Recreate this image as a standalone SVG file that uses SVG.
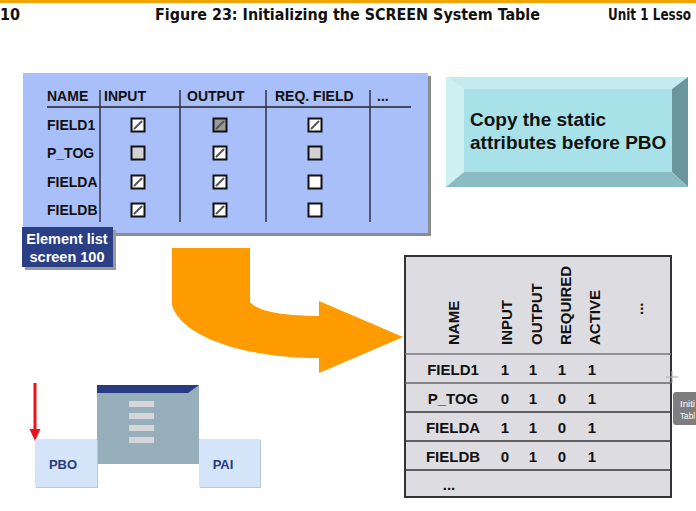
<svg xmlns="http://www.w3.org/2000/svg" width="696" height="511" viewBox="0 0 696 511">
<style>
.hdr{font-family:"Liberation Sans Narrow","DejaVu Sans Condensed","Liberation Sans",sans-serif;font-weight:bold;font-size:16px;fill:#111}
.t{font-family:"Liberation Sans",Arial,sans-serif;font-weight:bold;fill:#111}
.h14{font-size:14px}
.r15{font-size:15px}
.cb{stroke:#111;stroke-width:2}
.mk{stroke:#555;stroke-width:2;stroke-linecap:round}
.vsep{stroke:#334;stroke-width:1.5}
.row{stroke:#333;stroke-width:1.5}
</style>
<defs>
<g id="chk"><rect class="cb" x="-6.5" y="-6.5" width="13" height="13" fill="#fff"/><line class="mk" x1="-3.5" y1="3.5" x2="3.5" y2="-3.5"/></g>
<g id="chkg"><rect class="cb" x="-6.5" y="-6.5" width="13" height="13" fill="#9a9a9a"/><line class="mk" x1="-3.5" y1="3.5" x2="3.5" y2="-3.5" stroke="#444"/></g>
<g id="ung"><rect class="cb" x="-6.5" y="-6.5" width="13" height="13" fill="#d2d2d2"/></g>
<g id="unw"><rect class="cb" x="-6.5" y="-6.5" width="13" height="13" fill="#fff"/></g>
</defs>
<rect width="696" height="511" fill="#fff"/>
<!-- header -->
<g id="header">
<rect x="0" y="0" width="696" height="3" fill="#f2a500"/>
<text class="hdr" x="0" y="20">10</text>
<text class="hdr" x="155" y="20" textLength="385" lengthAdjust="spacingAndGlyphs">Figure 23: Initializing the SCREEN System Table</text>
<text class="hdr" x="608" y="20" textLength="83" lengthAdjust="spacingAndGlyphs">Unit 1 Lesso</text>
</g>
<!-- element list table -->
<g id="element-list">
<rect x="26" y="76" width="405" height="160" fill="#8c8c8c"/>
<rect x="23" y="73" width="405" height="160" fill="#a8bffa"/>
<line x1="47" y1="107" x2="411" y2="107" stroke="#222" stroke-width="1.5"/>
<line class="vsep" x1="100" y1="90" x2="100" y2="222"/>
<line class="vsep" x1="180" y1="90" x2="180" y2="222"/>
<line class="vsep" x1="266" y1="90" x2="266" y2="222"/>
<line class="vsep" x1="370" y1="90" x2="370" y2="222"/>
<text class="t h14" x="47" y="101">NAME</text>
<text class="t h14" x="104" y="101">INPUT</text>
<text class="t h14" x="187" y="101">OUTPUT</text>
<text class="t h14" x="275" y="101">REQ. FIELD</text>
<text class="t h14" x="377" y="101">...</text>
<text class="t h14" x="47" y="130">FIELD1</text>
<text class="t h14" x="47" y="158">P_TOG</text>
<text class="t h14" x="47" y="187">FIELDA</text>
<text class="t h14" x="47" y="215">FIELDB</text>
<use href="#chk" x="138" y="125"/><use href="#chkg" x="220" y="125"/><use href="#chk" x="315" y="125"/>
<use href="#ung" x="138" y="153"/><use href="#chk" x="220" y="153"/><use href="#ung" x="315" y="153"/>
<use href="#chk" x="138" y="182"/><use href="#chk" x="220" y="182"/><use href="#unw" x="315" y="182"/>
<use href="#chk" x="138" y="210"/><use href="#chk" x="220" y="210"/><use href="#unw" x="315" y="210"/>
</g>
<g id="element-label">
<rect x="25" y="230" width="91" height="40" fill="#9a9a9a"/>
<rect x="22" y="227" width="91" height="40" fill="#2b3f86"/>
<text class="t" x="67" y="244" font-size="14.5" style="fill:#fff" text-anchor="middle">Element list</text>
<text class="t" x="67" y="262" font-size="14.5" style="fill:#fff" text-anchor="middle">screen 100</text>
</g>
<!-- copy note -->
<g id="note">
<polygon points="446,77 688,77 672,89 464,89" fill="#c4ecf0"/>
<polygon points="446,77 464,89 464,172 446,187" fill="#cdf0f3"/>
<polygon points="688,77 688,187 672,172 672,89" fill="#6a959b"/>
<polygon points="446,187 688,187 672,172 464,172" fill="#8bbcc2"/>
<rect x="464" y="89" width="208" height="83" fill="#a8e2e8"/>
<text class="t" x="470" y="126" font-size="19">Copy the static</text>
<text class="t" x="470" y="149" font-size="19">attributes before PBO</text>
</g>
<!-- connectors -->
<g id="connectors">
<path d="M172,248 H250 V302 C258,312 285,316 319,316 V301 L403,337 L319,373 V358 C240,358 180,335 172,305 Z" fill="#fd9b00"/>
<line x1="35" y1="383" x2="35" y2="431" stroke="#e8141b" stroke-width="3"/>
<polygon points="29.5,429 40.5,429 35,441" fill="#e8141b"/>
</g>
<!-- SCREEN table -->
<g id="screen-table">
<rect x="405" y="256" width="266" height="241" fill="#dddce1" stroke="#333" stroke-width="2"/>
<line x1="405" y1="354" x2="671" y2="354" stroke="#777" stroke-width="1.5"/>
<line x1="405" y1="383" x2="671" y2="383" stroke="#666" stroke-width="1.5"/>
<line class="row" x1="405" y1="412" x2="671" y2="412"/>
<line class="row" x1="405" y1="441" x2="671" y2="441"/>
<line class="row" x1="405" y1="470" x2="671" y2="470"/>
<text class="t r15" transform="translate(459,345) rotate(-90)">NAME</text>
<text class="t r15" transform="translate(512,345) rotate(-90)">INPUT</text>
<text class="t r15" transform="translate(542,345) rotate(-90)">OUTPUT</text>
<text class="t r15" transform="translate(571,345) rotate(-90)">REQUIRED</text>
<text class="t r15" transform="translate(600,345) rotate(-90)">ACTIVE</text>
<text class="t r15" transform="translate(643,315) rotate(-90)">...</text>
<text class="t r15" x="453" y="375" text-anchor="middle">FIELD1</text>
<text class="t r15" x="453" y="404" text-anchor="middle">P_TOG</text>
<text class="t r15" x="453" y="433" text-anchor="middle">FIELDA</text>
<text class="t r15" x="453" y="462" text-anchor="middle">FIELDB</text>
<text class="t r15" x="449" y="490" text-anchor="middle">...</text>
<g text-anchor="middle">
<text class="t r15" x="505" y="375">1</text><text class="t r15" x="533" y="375">1</text><text class="t r15" x="562" y="375">1</text><text class="t r15" x="592" y="375">1</text>
<text class="t r15" x="505" y="404">0</text><text class="t r15" x="533" y="404">1</text><text class="t r15" x="562" y="404">0</text><text class="t r15" x="592" y="404">1</text>
<text class="t r15" x="505" y="433">1</text><text class="t r15" x="533" y="433">1</text><text class="t r15" x="562" y="433">0</text><text class="t r15" x="592" y="433">1</text>
<text class="t r15" x="505" y="462">0</text><text class="t r15" x="533" y="462">1</text><text class="t r15" x="562" y="462">0</text><text class="t r15" x="592" y="462">1</text>
</g>
</g>
<!-- screen window -->
<g id="window">
<rect x="97" y="385" width="102" height="79" fill="#97afba"/>
<rect x="97" y="385" width="91" height="8" fill="#283b82"/>
<polygon points="188,385 199,385 188,393" fill="#283b82"/>
<g fill="#d6d6da">
<rect x="129" y="401" width="25" height="6"/>
<rect x="129" y="413" width="25" height="6"/>
<rect x="129" y="425" width="25" height="6"/>
<rect x="129" y="437" width="25" height="6"/>
</g>
</g>
<g id="pbo">
<rect x="36" y="440" width="62" height="48" fill="#bcc8d8"/>
<rect x="35" y="439" width="62" height="48" fill="#d4e5f9"/>
<text class="t" x="63" y="469" font-size="13" style="fill:#2b3a80" text-anchor="middle">PBO</text>
</g>
<g id="pai">
<rect x="200" y="440" width="61" height="48" fill="#bcc8d8"/>
<rect x="199" y="439" width="61" height="48" fill="#d4e5f9"/>
<text class="t" x="223" y="469" font-size="13" style="fill:#2b3a80" text-anchor="middle">PAI</text>
</g>
<!-- cursor and tooltip -->
<g id="tooltip">
<g stroke="#aaa" stroke-width="1"><line x1="666" y1="377" x2="678" y2="377"/><line x1="672" y1="371" x2="672" y2="383"/></g>
<rect x="673" y="392" width="30" height="33" rx="3" fill="#7d7d7d"/>
<text x="680" y="407" font-family="Liberation Sans, sans-serif" font-size="9.5" fill="#fff" textLength="15" lengthAdjust="spacingAndGlyphs">Initi</text>
<text x="680" y="419" font-family="Liberation Sans, sans-serif" font-size="9.5" fill="#fff" textLength="15" lengthAdjust="spacingAndGlyphs">Tabl</text>
</g>
</svg>
